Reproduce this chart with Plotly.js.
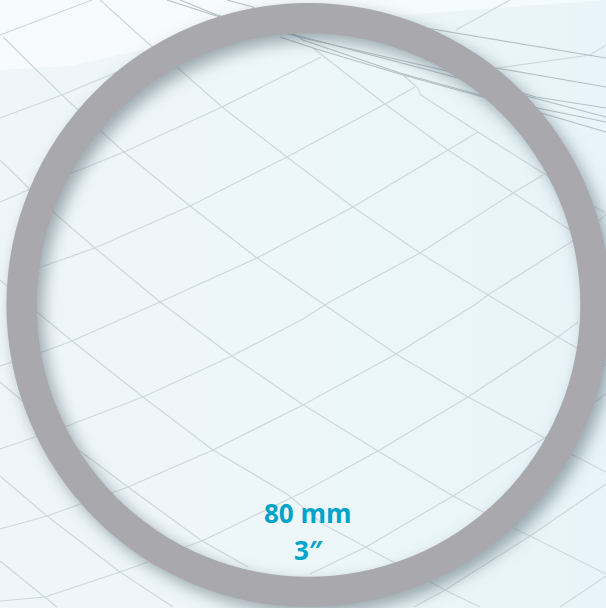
<!DOCTYPE html>
<html>
<head>
<meta charset="utf-8">
<script src="https://cdn.plot.ly/plotly-3.0.1.min.js"></script>
<style>
html,body{margin:0;padding:0;width:606px;height:608px;overflow:hidden;
background:linear-gradient(90deg,#eff6f9 0%,#eef6f9 30%,#edf7fa 50%,#ecf7fa 62%,#e9f5f8 80%,#e8f4f9 100%);}
#chart{width:620px;height:620px;}
#chart .pielayer{filter:drop-shadow(6px 7px 8px rgba(70,90,100,.5));}
#chart .scatterlayer{filter:blur(.45px);}
</style>
</head>
<body>
<div id="chart"></div>
<script>
// ring value and its labels
var ringValues = [80];
var ringColors = ['#a9a9ad'];
var sizeLabels = ['80 mm', '3″'];
var sizeLabelX = [308, 308];
var sizeLabelY = [513, 550];

// pale top band of the backdrop
var bandX = [0, 0, 70, 150, 280, 403, 500, 606, 606];
var bandY = [0, 70, 66, 48, 30, 15, 8, 0, 0];

// backdrop mesh: lines falling to the right
var fall1X = [100,150,177,222,287,353,420,488,558,606];
var fall1Y = [0,45,67,107,157,207,253,295,337,365];
var fall2X = [3,62,102,124,190,257,303,328,396,468,543,571,606];
var fall2Y = [37,95,132,152,206,258,290,307,354,397,437,454,472];
var fall3X = [0,28,53,95,160,232,302,378,453,515,530,606];
var fall3Y = [160,188,212,248,302,356,404,451,496,529,536,574];
var fall4X = [0,37,72,143,213,287,323,366,430,445,480];
var fall4Y = [280,312,341,397,450,494,524,547,582,590,607];
var fall5X = [0,20,80,128,202,248];
var fall5Y = [382,399,451,487,541,567];
var fall6X = [0,47,120,173];
var fall6Y = [476,516,572,607];
var fall7X = [0,45,57];
var fall7Y = [561,597,607];
var fall8X = [313,385,448,513,570,606];
var fall8Y = [48,104,150,193,230,256];
var fall9X = [403,418,421,478,543,595,606];
var fall9Y = [75,88,95,132,173,207,213];

// backdrop mesh: lines rising to the right
var rise1X = [0,92];
var rise1Y = [35,0];
var rise2X = [0,62,117];
var rise2Y = [118,95,72];
var rise3X = [0,28,72,124,222,303,321];
var rise3Y = [202,190,173,152,107,66,57];
var rise4X = [38,95,190,287,385,415];
var rise4Y = [268,248,206,157,104,87];
var rise5X = [0,42,72,160,257,353,448,478];
var rise5Y = [366,352,341,302,258,207,150,132];
var rise6X = [0,67,143,232,303,328,420,513,543];
var rise6Y = [449,426,397,356,319,303,253,193,175];
var rise7X = [0,47,128,213,303,396,476,488,571,606];
var rise7Y = [529,516,487,450,405,354,304,295,242,215];
var rise8X = [185,202,303,378,468,558,578];
var rise8Y = [547,541,492,451,397,337,322];
var rise9X = [0,45,120,148];
var rise9Y = [601,597,572,562];
var rise10X = [310,366,453,543,606];
var rise10Y = [574,547,496,439,394];
var rise11X = [414,445,530,606];
var rise11Y = [607,590,536,484];
var rise12X = [560,606];
var rise12Y = [607,576];
var rise13X = [456,510];
var rise13Y = [30,0];
var rise14X = [498,590,606];
var rise14Y = [68,55,45];

// backdrop mesh: dense lines at the top right
var dense1X = [167,220,303,436,606];
var dense1Y = [0,17,37,72,117];
var dense2X = [180,217,303,443,536,606];
var dense2Y = [0,15,38,70,97,108];
var dense3X = [227,253,303,400,480,606];
var dense3Y = [0,7,40,73,95,132];
var dense4X = [280,313,403,483,606];
var dense4Y = [37,48,75,97,122];
var dense5X = [420,590,606];
var dense5Y = [27,55,58];
var dense6X = [496,606];
var dense6Y = [68,87];

var meshLines = [
  [fall1X,fall1Y],[fall2X,fall2Y],[fall3X,fall3Y],[fall4X,fall4Y],[fall5X,fall5Y],
  [fall6X,fall6Y],[fall7X,fall7Y],[fall8X,fall8Y],[fall9X,fall9Y],
  [rise1X,rise1Y],[rise2X,rise2Y],[rise3X,rise3Y],[rise4X,rise4Y],[rise5X,rise5Y],
  [rise6X,rise6Y],[rise7X,rise7Y],[rise8X,rise8Y],[rise9X,rise9Y],[rise10X,rise10Y],
  [rise11X,rise11Y],[rise12X,rise12Y],[rise13X,rise13Y],[rise14X,rise14Y]
];
var denseLines = [
  [dense1X,dense1Y],[dense2X,dense2Y],[dense3X,dense3Y],
  [dense4X,dense4Y],[dense5X,dense5Y],[dense6X,dense6Y]
];

var traces = [{
  type:'scatter', mode:'lines', x:bandX, y:bandY, fill:'toself',
  fillcolor:'rgba(255,255,255,.55)', line:{width:0}, hoverinfo:'skip', showlegend:false
}];
meshLines.forEach(function(l){
  traces.push({type:'scatter',mode:'lines',x:l[0],y:l[1],
    line:{color:'#cdd8db',width:1.2},hoverinfo:'skip',showlegend:false});
});
denseLines.forEach(function(l){
  traces.push({type:'scatter',mode:'lines',x:l[0],y:l[1],
    line:{color:'#b4c1c5',width:1.2},hoverinfo:'skip',showlegend:false});
});
traces.push({
  type:'pie', values:ringValues, hole:0.9, sort:false, textinfo:'none', hoverinfo:'skip',
  marker:{colors:ringColors,line:{width:0}}, showlegend:false,
  domain:{x:[6.5/620,610.5/620], y:[13/620,617/620]}
});

var layout = {
  width:620, height:620,
  margin:{l:0,r:0,t:0,b:0},
  paper_bgcolor:'rgba(0,0,0,0)', plot_bgcolor:'rgba(0,0,0,0)',
  showlegend:false,
  xaxis:{range:[0,620],visible:false,fixedrange:true},
  yaxis:{range:[620,0],visible:false,fixedrange:true},
  annotations: sizeLabels.map(function(t,i){
    return {text:'<b>'+t+'</b>',x:sizeLabelX[i],y:sizeLabelY[i],xref:'x',yref:'y',
      showarrow:false,xanchor:'center',yanchor:'middle',
      font:{family:'"Open Sans",sans-serif',size:26,color:'#00a3c9'}};
  })
};
Plotly.newPlot('chart',traces,layout,{displayModeBar:false,staticPlot:true});
</script>
</body>
</html>
